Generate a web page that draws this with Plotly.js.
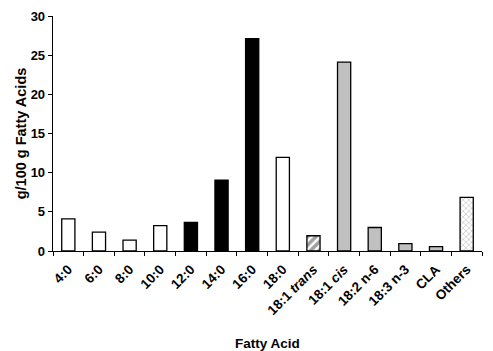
<!DOCTYPE html>
<html>
<head>
<meta charset="utf-8">
<script src="https://cdn.plot.ly/plotly-3.0.1.min.js"></script>
<style>html,body{margin:0;padding:0;background:#fff;}#chart{width:493px;height:351px;}</style>
</head>
<body>
<div id="chart"></div>
<script>
const categories = ["4:0","6:0","8:0","10:0","12:0","14:0","16:0","18:0","18:1 trans","18:1 cis","18:2 n-6","18:3 n-3","CLA","Others"];
const tickLabels = ["4:0","6:0","8:0","10:0","12:0","14:0","16:0","18:0","18:1 <i>trans</i>","18:1 <i>cis</i>","18:2 n-6","18:3 n-3","CLA","Others"];
const values = [4.1, 2.4, 1.4, 3.25, 3.65, 9.05, 27.1, 11.95, 1.95, 24.1, 3.0, 0.95, 0.55, 6.85];
const fillColors = ["#ffffff","#ffffff","#ffffff","#ffffff","#000000","#000000","#000000","#ffffff","#ffffff","#c0c0c0","#c0c0c0","#c0c0c0","#c0c0c0","#ffffff"];
const patternShapes = ["","","","","","","","","/","","","","","x"];
const patternColors = ["#000","#000","#000","#000","#000","#000","#000","#000","#000","#000","#000","#000","#000","#8a8a8a"];
const patternSizes = [7,7,7,7,7,7,7,7,6,7,7,7,7,4];
const patternSolidity = [0.5,0.5,0.5,0.5,0.5,0.5,0.5,0.5,0.6,0.5,0.5,0.5,0.5,0.2];

const trace = {
  type: "bar",
  x: categories,
  y: values,
  marker: {
    color: fillColors,
    line: {color: "#000000", width: 1.3},
    pattern: {shape: patternShapes, fgcolor: patternColors, size: patternSizes, solidity: patternSolidity, fillmode: "overlay"}
  },
  hoverinfo: "x+y"
};

const FF = "Liberation Sans, Arial, sans-serif";

const layout = {
  width: 493, height: 351,
  margin: {l: 53, r: 11, t: 16, b: 100},
  paper_bgcolor: "#ffffff", plot_bgcolor: "#ffffff",
  bargap: 0.57,
  showlegend: false,
  font: {family: FF, color: "#000", size: 12},
  xaxis: {
    type: "category",
    tickmode: "array",
    tickvals: categories,
    ticktext: tickLabels,
    tickangle: -45,
    tickson: "boundaries",
    ticks: "outside", ticklen: 4, tickwidth: 1, tickcolor: "#000",
    ticklabelstandoff: 4,
    showline: true, linecolor: "#000", linewidth: 1.3,
    showgrid: false, zeroline: false,
    automargin: false,
    tickfont: {family: FF, size: 13.5, color: "#000", weight: "bold"},
    title: {text: "<b>Fatty Acid</b>", font: {family: FF, size: 13.5, color: "#000"}, standoff: 22}
  },
  yaxis: {
    range: [0, 30],
    tickvals: [0,5,10,15,20,25,30],
    ticks: "outside", ticklen: 4, tickwidth: 1, tickcolor: "#000",
    showline: true, linecolor: "#000", linewidth: 1.3,
    showgrid: false, zeroline: false,
    automargin: false,
    tickfont: {family: FF, size: 13, color: "#000", weight: "bold"},
    title: {text: "<b>g/100 g Fatty Acids</b>", font: {family: FF, size: 14.5, color: "#000"}, standoff: 0}
  }
};

Plotly.newPlot("chart", [trace], layout, {displayModeBar: false, staticPlot: true});
</script>
</body>
</html>
